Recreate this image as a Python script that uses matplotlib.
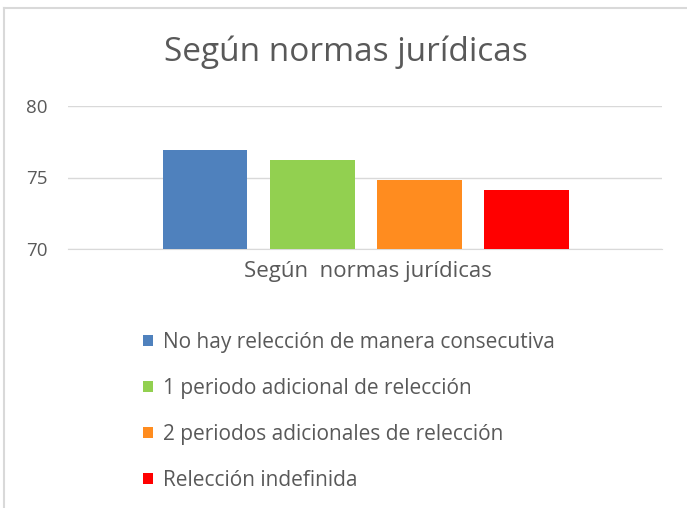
import matplotlib.pyplot as plt
from matplotlib.lines import Line2D

categories = ['No hay relección de manera consecutiva',
              '1 periodo adicional de relección',
              '2 periodos adicionales de relección',
              'Relección indefinida']
values = [76.9, 76.2, 74.8, 74.1]
colors = ['#4F81BD', '#92D050', '#FF8C1F', '#FF0000']
yticks = [70, 75, 80]
group_label = 'Según  normas jurídicas'
title = 'Según normas jurídicas'

W, H = 687, 508
fig = plt.figure(figsize=(W / 100, H / 100), dpi=100)
plt.rcParams['font.family'] = ['Open Sans', 'DejaVu Sans']

# outer chart border (only top and left visible in the crop)
fig.add_artist(Line2D([4 / W, 4 / W], [0, 1 - 8 / H], color='#D9D9D9', lw=1.5))
fig.add_artist(Line2D([4 / W, 1], [1 - 8 / H, 1 - 8 / H], color='#D9D9D9', lw=1.5))

ax = fig.add_axes([68 / W, 1 - 249 / H, 594 / W, 143 / H])
xs = range(len(values))
bars = ax.bar(xs, values, width=0.794, color=colors, zorder=3)
ax.set_ylim(70, 80)
ax.set_xlim(-1.28, 4.27)
ax.set_yticks(yticks)
ax.set_yticklabels([str(t) for t in yticks], fontsize=13.5, color='#595959')
ax.yaxis.grid(True, color='#D9D9D9', lw=1, zorder=0)
ax.tick_params(axis='y', length=0, pad=15)
ax.set_xticks([])
for s in ax.spines.values():
    s.set_visible(False)
ax.spines['bottom'].set_visible(True)
ax.spines['bottom'].set_color('#D9D9D9')

fig.text(368 / W, 1 - 271 / H, group_label, ha='center', va='center',
         fontsize=16, color='#595959')
fig.text(346 / W, 1 - 52 / H, title, ha='center', va='center',
         fontsize=24, color='#595959')

fig.legend(bars, categories, loc='upper left', bbox_to_anchor=(143 / W, 1 - 332 / H),
           frameon=False, fontsize=15, labelcolor='#595959',
           borderpad=0, borderaxespad=0,
           handlelength=0.48, handleheight=0.48, handletextpad=0.5,
           labelspacing=1.2)

fig.savefig('out.png', dpi=100, facecolor='white')
